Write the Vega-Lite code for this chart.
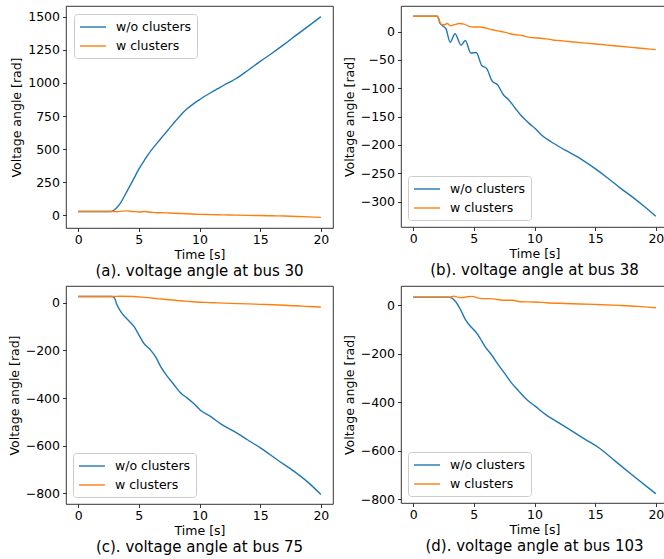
{
  "$schema": "https://vega.github.io/schema/vega-lite/v6.json",
  "padding": {"left": 7, "top": 5, "right": 0, "bottom": 0},
  "background": "white",
  "config": {
    "font": "DejaVu Sans",
    "view": {"stroke": "#000", "strokeWidth": 0.8},
    "axis": {"grid": false, "domain": false, "tickColor": "#000", "tickWidth": 0.8, "tickSize": 3.5, "labelFont": "DejaVu Sans", "labelFontSize": 12.5, "labelColor": "#000", "labelPadding": 2, "labelOverlap": false, "labelFlush": false, "titleFont": "DejaVu Sans", "titleFontSize": 12.5, "titleFontWeight": "normal", "titleColor": "#000"},
    "legend": {"symbolType": "M-1,0H2.71", "symbolSize": 196, "symbolStrokeWidth": 1.5, "labelFont": "DejaVu Sans", "labelFontSize": 12.5, "labelColor": "#000", "labelOffset": 21, "padding": 5, "rowPadding": 4, "strokeColor": "#cccccc", "fillColor": "rgba(255,255,255,0.8)", "cornerRadius": 3, "offset": 7},
    "title": {"font": "DejaVu Sans", "fontSize": 15, "fontWeight": "normal", "color": "#000", "orient": "bottom", "offset": 3, "anchor": "middle"},
    "line": {"strokeWidth": 1.4, "interpolate": "monotone"}
  },
  "data": {"values": [
    {"p":"a","s":"w/o clusters","t":0,"v":30},{"p":"a","s":"w/o clusters","t":2.7,"v":30},{"p":"a","s":"w/o clusters","t":3.0,"v":43},{"p":"a","s":"w/o clusters","t":3.25,"v":65},{"p":"a","s":"w/o clusters","t":3.5,"v":94},{"p":"a","s":"w/o clusters","t":3.75,"v":135},{"p":"a","s":"w/o clusters","t":4.0,"v":178},{"p":"a","s":"w/o clusters","t":4.5,"v":262},{"p":"a","s":"w/o clusters","t":5.0,"v":349},{"p":"a","s":"w/o clusters","t":5.5,"v":422},{"p":"a","s":"w/o clusters","t":6.0,"v":489},{"p":"a","s":"w/o clusters","t":6.5,"v":545},{"p":"a","s":"w/o clusters","t":7.0,"v":600},{"p":"a","s":"w/o clusters","t":7.5,"v":655},{"p":"a","s":"w/o clusters","t":8.0,"v":710},{"p":"a","s":"w/o clusters","t":8.5,"v":762},{"p":"a","s":"w/o clusters","t":9.0,"v":806},{"p":"a","s":"w/o clusters","t":9.5,"v":842},{"p":"a","s":"w/o clusters","t":10.0,"v":873},{"p":"a","s":"w/o clusters","t":10.5,"v":903},{"p":"a","s":"w/o clusters","t":11.0,"v":930},{"p":"a","s":"w/o clusters","t":11.5,"v":956},{"p":"a","s":"w/o clusters","t":12.0,"v":982},{"p":"a","s":"w/o clusters","t":12.5,"v":1006},{"p":"a","s":"w/o clusters","t":13.0,"v":1031},{"p":"a","s":"w/o clusters","t":14.0,"v":1095},{"p":"a","s":"w/o clusters","t":15.0,"v":1162},{"p":"a","s":"w/o clusters","t":16.0,"v":1225},{"p":"a","s":"w/o clusters","t":17.0,"v":1292},{"p":"a","s":"w/o clusters","t":18.0,"v":1362},{"p":"a","s":"w/o clusters","t":19.0,"v":1430},{"p":"a","s":"w/o clusters","t":20.0,"v":1500},
    {"p":"a","s":"w clusters","t":0,"v":30},{"p":"a","s":"w clusters","t":2.8,"v":30},{"p":"a","s":"w clusters","t":3.2,"v":28},{"p":"a","s":"w clusters","t":3.6,"v":32},{"p":"a","s":"w clusters","t":4.0,"v":34},{"p":"a","s":"w clusters","t":4.5,"v":30},{"p":"a","s":"w clusters","t":5.0,"v":26},{"p":"a","s":"w clusters","t":5.5,"v":29},{"p":"a","s":"w clusters","t":6.0,"v":24},{"p":"a","s":"w clusters","t":6.5,"v":20},{"p":"a","s":"w clusters","t":7.0,"v":21},{"p":"a","s":"w clusters","t":7.5,"v":18},{"p":"a","s":"w clusters","t":8,"v":16},{"p":"a","s":"w clusters","t":9,"v":12},{"p":"a","s":"w clusters","t":10,"v":8},{"p":"a","s":"w clusters","t":11,"v":6},{"p":"a","s":"w clusters","t":12,"v":4},{"p":"a","s":"w clusters","t":13,"v":2},{"p":"a","s":"w clusters","t":14,"v":0},{"p":"a","s":"w clusters","t":15,"v":-1},{"p":"a","s":"w clusters","t":16,"v":-3},{"p":"a","s":"w clusters","t":17,"v":-5},{"p":"a","s":"w clusters","t":18,"v":-8},{"p":"a","s":"w clusters","t":19,"v":-11},{"p":"a","s":"w clusters","t":20,"v":-15},
    {"p":"b","s":"w/o clusters","t":0,"v":27},{"p":"b","s":"w/o clusters","t":2.0,"v":27},{"p":"b","s":"w/o clusters","t":2.2,"v":15},{"p":"b","s":"w/o clusters","t":2.5,"v":9},{"p":"b","s":"w/o clusters","t":2.7,"v":5},{"p":"b","s":"w/o clusters","t":3.05,"v":-19},{"p":"b","s":"w/o clusters","t":3.45,"v":-4},{"p":"b","s":"w/o clusters","t":3.95,"v":-24},{"p":"b","s":"w/o clusters","t":4.3,"v":-16},{"p":"b","s":"w/o clusters","t":4.75,"v":-38},{"p":"b","s":"w/o clusters","t":5.2,"v":-37},{"p":"b","s":"w/o clusters","t":5.65,"v":-60},{"p":"b","s":"w/o clusters","t":6.05,"v":-65},{"p":"b","s":"w/o clusters","t":6.5,"v":-87},{"p":"b","s":"w/o clusters","t":6.95,"v":-94},{"p":"b","s":"w/o clusters","t":7.45,"v":-112},{"p":"b","s":"w/o clusters","t":7.85,"v":-120},{"p":"b","s":"w/o clusters","t":8.4,"v":-135},{"p":"b","s":"w/o clusters","t":8.8,"v":-146},{"p":"b","s":"w/o clusters","t":9.2,"v":-155},{"p":"b","s":"w/o clusters","t":9.6,"v":-163},{"p":"b","s":"w/o clusters","t":10.05,"v":-171},{"p":"b","s":"w/o clusters","t":10.6,"v":-183},{"p":"b","s":"w/o clusters","t":11.4,"v":-195},{"p":"b","s":"w/o clusters","t":12.5,"v":-209},{"p":"b","s":"w/o clusters","t":13.9,"v":-226},{"p":"b","s":"w/o clusters","t":15,"v":-242},{"p":"b","s":"w/o clusters","t":16,"v":-258},{"p":"b","s":"w/o clusters","t":17,"v":-275},{"p":"b","s":"w/o clusters","t":18,"v":-291},{"p":"b","s":"w/o clusters","t":19,"v":-308},{"p":"b","s":"w/o clusters","t":20,"v":-326},
    {"p":"b","s":"w clusters","t":0,"v":27},{"p":"b","s":"w clusters","t":2.0,"v":27},{"p":"b","s":"w clusters","t":2.15,"v":20},{"p":"b","s":"w clusters","t":2.3,"v":13},{"p":"b","s":"w clusters","t":2.6,"v":12},{"p":"b","s":"w clusters","t":2.8,"v":14},{"p":"b","s":"w clusters","t":3.1,"v":10},{"p":"b","s":"w clusters","t":3.4,"v":12},{"p":"b","s":"w clusters","t":3.8,"v":14},{"p":"b","s":"w clusters","t":4.2,"v":13},{"p":"b","s":"w clusters","t":4.6,"v":9},{"p":"b","s":"w clusters","t":5.0,"v":8},{"p":"b","s":"w clusters","t":5.5,"v":8},{"p":"b","s":"w clusters","t":6.0,"v":6},{"p":"b","s":"w clusters","t":6.5,"v":3},{"p":"b","s":"w clusters","t":7.0,"v":1},{"p":"b","s":"w clusters","t":7.5,"v":-1},{"p":"b","s":"w clusters","t":8.0,"v":-4},{"p":"b","s":"w clusters","t":8.5,"v":-6},{"p":"b","s":"w clusters","t":9.0,"v":-7},{"p":"b","s":"w clusters","t":9.5,"v":-10},{"p":"b","s":"w clusters","t":10,"v":-11},{"p":"b","s":"w clusters","t":10.5,"v":-12},{"p":"b","s":"w clusters","t":11,"v":-13},{"p":"b","s":"w clusters","t":11.5,"v":-15},{"p":"b","s":"w clusters","t":12,"v":-16},{"p":"b","s":"w clusters","t":13,"v":-18},{"p":"b","s":"w clusters","t":14,"v":-20},{"p":"b","s":"w clusters","t":15,"v":-22},{"p":"b","s":"w clusters","t":16,"v":-24},{"p":"b","s":"w clusters","t":17,"v":-26},{"p":"b","s":"w clusters","t":18,"v":-28},{"p":"b","s":"w clusters","t":19,"v":-30},{"p":"b","s":"w clusters","t":20,"v":-32},
    {"p":"c","s":"w/o clusters","t":0,"v":27},{"p":"c","s":"w/o clusters","t":2.8,"v":27},{"p":"c","s":"w/o clusters","t":3.0,"v":20},{"p":"c","s":"w/o clusters","t":3.2,"v":-8},{"p":"c","s":"w/o clusters","t":3.6,"v":-43},{"p":"c","s":"w/o clusters","t":4.05,"v":-69},{"p":"c","s":"w/o clusters","t":4.6,"v":-99},{"p":"c","s":"w/o clusters","t":5.0,"v":-134},{"p":"c","s":"w/o clusters","t":5.4,"v":-169},{"p":"c","s":"w/o clusters","t":5.95,"v":-197},{"p":"c","s":"w/o clusters","t":6.4,"v":-228},{"p":"c","s":"w/o clusters","t":6.8,"v":-268},{"p":"c","s":"w/o clusters","t":7.35,"v":-309},{"p":"c","s":"w/o clusters","t":7.9,"v":-344},{"p":"c","s":"w/o clusters","t":8.45,"v":-379},{"p":"c","s":"w/o clusters","t":9.0,"v":-400},{"p":"c","s":"w/o clusters","t":9.55,"v":-424},{"p":"c","s":"w/o clusters","t":10.1,"v":-452},{"p":"c","s":"w/o clusters","t":10.9,"v":-477},{"p":"c","s":"w/o clusters","t":11.75,"v":-508},{"p":"c","s":"w/o clusters","t":12.85,"v":-540},{"p":"c","s":"w/o clusters","t":13.95,"v":-575},{"p":"c","s":"w/o clusters","t":15.05,"v":-610},{"p":"c","s":"w/o clusters","t":16.4,"v":-659},{"p":"c","s":"w/o clusters","t":17.8,"v":-708},{"p":"c","s":"w/o clusters","t":18.9,"v":-752},{"p":"c","s":"w/o clusters","t":20,"v":-805},
    {"p":"c","s":"w clusters","t":0,"v":27},{"p":"c","s":"w clusters","t":2.8,"v":27},{"p":"c","s":"w clusters","t":3.5,"v":28},{"p":"c","s":"w clusters","t":4.5,"v":27},{"p":"c","s":"w clusters","t":5.5,"v":23},{"p":"c","s":"w clusters","t":6.5,"v":18},{"p":"c","s":"w clusters","t":7.5,"v":13},{"p":"c","s":"w clusters","t":8.5,"v":9},{"p":"c","s":"w clusters","t":9.5,"v":5},{"p":"c","s":"w clusters","t":10.5,"v":2},{"p":"c","s":"w clusters","t":11.5,"v":0},{"p":"c","s":"w clusters","t":12.5,"v":-2},{"p":"c","s":"w clusters","t":14,"v":-4},{"p":"c","s":"w clusters","t":15,"v":-6},{"p":"c","s":"w clusters","t":16,"v":-8},{"p":"c","s":"w clusters","t":17,"v":-10},{"p":"c","s":"w clusters","t":18,"v":-12},{"p":"c","s":"w clusters","t":19,"v":-15},{"p":"c","s":"w clusters","t":20,"v":-17},
    {"p":"d","s":"w/o clusters","t":0,"v":34},{"p":"d","s":"w/o clusters","t":2.9,"v":34},{"p":"d","s":"w/o clusters","t":3.2,"v":30},{"p":"d","s":"w/o clusters","t":3.46,"v":18},{"p":"d","s":"w/o clusters","t":3.9,"v":-17},{"p":"d","s":"w/o clusters","t":4.3,"v":-58},{"p":"d","s":"w/o clusters","t":4.7,"v":-85},{"p":"d","s":"w/o clusters","t":5.1,"v":-106},{"p":"d","s":"w/o clusters","t":5.5,"v":-134},{"p":"d","s":"w/o clusters","t":5.9,"v":-168},{"p":"d","s":"w/o clusters","t":6.5,"v":-207},{"p":"d","s":"w/o clusters","t":7.0,"v":-244},{"p":"d","s":"w/o clusters","t":7.6,"v":-285},{"p":"d","s":"w/o clusters","t":8.1,"v":-320},{"p":"d","s":"w/o clusters","t":8.7,"v":-354},{"p":"d","s":"w/o clusters","t":9.4,"v":-391},{"p":"d","s":"w/o clusters","t":10.05,"v":-416},{"p":"d","s":"w/o clusters","t":10.9,"v":-450},{"p":"d","s":"w/o clusters","t":12,"v":-485},{"p":"d","s":"w/o clusters","t":13.1,"v":-519},{"p":"d","s":"w/o clusters","t":14.2,"v":-554},{"p":"d","s":"w/o clusters","t":15.3,"v":-588},{"p":"d","s":"w/o clusters","t":16.65,"v":-643},{"p":"d","s":"w/o clusters","t":18,"v":-698},{"p":"d","s":"w/o clusters","t":20,"v":-778},
    {"p":"d","s":"w clusters","t":0,"v":34},{"p":"d","s":"w clusters","t":2.9,"v":34},{"p":"d","s":"w clusters","t":3.05,"v":34},{"p":"d","s":"w clusters","t":3.32,"v":38},{"p":"d","s":"w clusters","t":3.6,"v":35},{"p":"d","s":"w clusters","t":4.0,"v":32},{"p":"d","s":"w clusters","t":4.4,"v":35},{"p":"d","s":"w clusters","t":4.83,"v":37},{"p":"d","s":"w clusters","t":5.5,"v":29},{"p":"d","s":"w clusters","t":6.6,"v":27},{"p":"d","s":"w clusters","t":7.4,"v":21},{"p":"d","s":"w clusters","t":8.2,"v":21},{"p":"d","s":"w clusters","t":8.8,"v":15},{"p":"d","s":"w clusters","t":10,"v":14},{"p":"d","s":"w clusters","t":11,"v":11},{"p":"d","s":"w clusters","t":12.5,"v":8},{"p":"d","s":"w clusters","t":15,"v":4},{"p":"d","s":"w clusters","t":17,"v":0},{"p":"d","s":"w clusters","t":18.5,"v":-4},{"p":"d","s":"w clusters","t":20,"v":-10}
  ]},
  "columns": 2,
  "align": "each",
  "spacing": {"row": 6, "column": 8},
  "resolve": {"scale": {"x": "independent", "y": "independent"}, "legend": {"color": "independent"}},
  "concat": [
    {
      "width": 267, "height": 222,
      "title": {"text": "(a). voltage angle at bus 30"},
      "transform": [{"filter": "datum.p === 'a'"}],
      "mark": {"type": "line"},
      "encoding": {
        "x": {"field": "t", "type": "quantitative", "scale": {"domain": [-1, 21], "nice": false, "zero": false}, "axis": {"title": "Time [s]", "values": [0, 5, 10, 15, 20], "format": "d", "titleFontSize": 12.5, "titlePadding": 2}},
        "y": {"field": "v", "type": "quantitative", "scale": {"domain": [-95, 1580], "nice": false, "zero": false}, "axis": {"title": "Voltage angle [rad]", "values": [0, 250, 500, 750, 1000, 1250, 1500], "format": "d", "titleFontSize": 12.5, "titlePadding": 4, "labelPadding": 3}},
        "color": {"field": "s", "type": "nominal", "scale": {"domain": ["w/o clusters", "w clusters"], "range": ["#1f77b4", "#ff7f0e"]}, "legend": {"title": null, "orient": "top-left", "offset": 8, "symbolType": "M-1,0H2.71"}}
      }
    },
    {
      "width": 267, "height": 221,
      "title": {"text": "(b). voltage angle at bus 38"},
      "transform": [{"filter": "datum.p === 'b'"}],
      "mark": {"type": "line"},
      "encoding": {
        "x": {"field": "t", "type": "quantitative", "scale": {"domain": [-1, 21], "nice": false, "zero": false}, "axis": {"title": "Time [s]", "values": [0, 5, 10, 15, 20], "format": "d", "titleFontSize": 12.5, "titlePadding": 2}},
        "y": {"field": "v", "type": "quantitative", "scale": {"domain": [-345, 45], "nice": false, "zero": false}, "axis": {"title": "Voltage angle [rad]", "values": [0, -50, -100, -150, -200, -250, -300], "format": "d", "titleFontSize": 12.5, "titlePadding": 4, "labelPadding": 3}},
        "color": {"field": "s", "type": "nominal", "scale": {"domain": ["w/o clusters", "w clusters"], "range": ["#1f77b4", "#ff7f0e"]}, "legend": {"title": null, "orient": "bottom-left", "offset": 7, "symbolType": "M-1,0H2.71"}}
      }
    },
    {
      "width": 267, "height": 218,
      "title": {"text": "(c). voltage angle at bus 75"},
      "transform": [{"filter": "datum.p === 'c'"}],
      "mark": {"type": "line"},
      "encoding": {
        "x": {"field": "t", "type": "quantitative", "scale": {"domain": [-1, 21], "nice": false, "zero": false}, "axis": {"title": "Time [s]", "values": [0, 5, 10, 15, 20], "format": "d", "titleFontSize": 12.5, "titlePadding": 2}},
        "y": {"field": "v", "type": "quantitative", "scale": {"domain": [-845, 71], "nice": false, "zero": false}, "axis": {"title": "Voltage angle [rad]", "values": [0, -200, -400, -600, -800], "format": "d", "titleFontSize": 12.5, "titlePadding": 4, "labelPadding": 3}},
        "color": {"field": "s", "type": "nominal", "scale": {"domain": ["w/o clusters", "w clusters"], "range": ["#1f77b4", "#ff7f0e"]}, "legend": {"title": null, "orient": "bottom-left", "offset": 7, "symbolType": "M-1,0H2.71"}}
      }
    },
    {
      "width": 267, "height": 217,
      "title": {"text": "(d). voltage angle at bus 103"},
      "transform": [{"filter": "datum.p === 'd'"}],
      "mark": {"type": "line"},
      "encoding": {
        "x": {"field": "t", "type": "quantitative", "scale": {"domain": [-1, 21], "nice": false, "zero": false}, "axis": {"title": "Time [s]", "values": [0, 5, 10, 15, 20], "format": "d", "titleFontSize": 12.5, "titlePadding": 2}},
        "y": {"field": "v", "type": "quantitative", "scale": {"domain": [-816, 80], "nice": false, "zero": false}, "axis": {"title": "Voltage angle [rad]", "values": [0, -200, -400, -600, -800], "format": "d", "titleFontSize": 12.5, "titlePadding": 4, "labelPadding": 3}},
        "color": {"field": "s", "type": "nominal", "scale": {"domain": ["w/o clusters", "w clusters"], "range": ["#1f77b4", "#ff7f0e"]}, "legend": {"title": null, "orient": "bottom-left", "offset": 7, "symbolType": "M-1,0H2.71"}}
      }
    }
  ]
}
